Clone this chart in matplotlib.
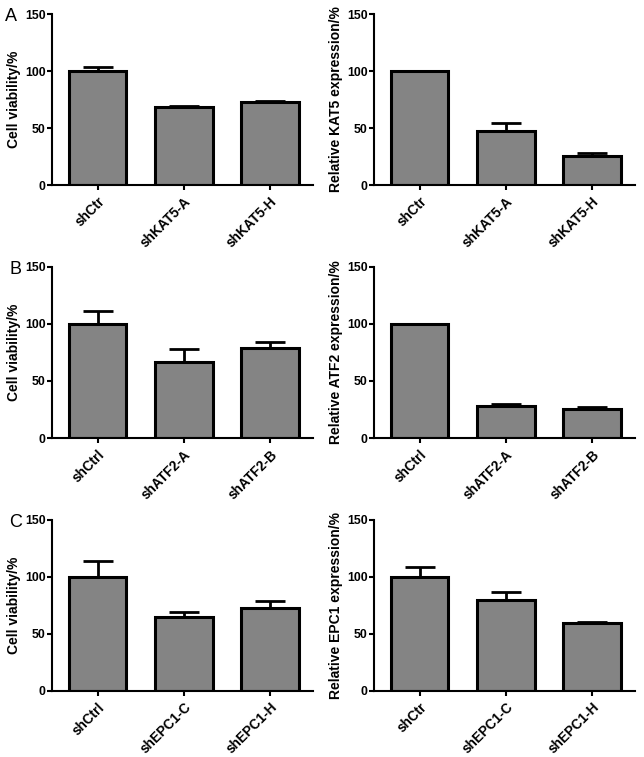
import matplotlib.pyplot as plt

plt.rcParams['font.family'] = ['Liberation Sans', 'DejaVu Sans']

# data
labels_a1 = ['shCtr', 'shKAT5-A', 'shKAT5-H']
vals_a1 = [100, 68, 72.5]
err_a1 = [3.5, 1.5, 1.5]

labels_a2 = ['shCtr', 'shKAT5-A', 'shKAT5-H']
vals_a2 = [100, 47.5, 25.5]
err_a2 = [0, 7, 2.3]

labels_b1 = ['shCtrl', 'shATF2-A', 'shATF2-B']
vals_b1 = [100, 67, 79]
err_b1 = [11, 11, 5]

labels_b2 = ['shCtrl', 'shATF2-A', 'shATF2-B']
vals_b2 = [100, 28.3, 25.6]
err_b2 = [0, 1.4, 1.2]

labels_c1 = ['shCtrl', 'shEPC1-C', 'shEPC1-H']
vals_c1 = [100, 64.5, 73]
err_c1 = [14, 5, 5.5]

labels_c2 = ['shCtr', 'shEPC1-C', 'shEPC1-H']
vals_c2 = [100, 80, 59.5]
err_c2 = [9, 7, 1]

ylabels = ['Cell viability/%', 'Relative KAT5 expression/%',
           'Cell viability/%', 'Relative ATF2 expression/%',
           'Cell viability/%', 'Relative EPC1 expression/%']

panels = [(labels_a1, vals_a1, err_a1), (labels_a2, vals_a2, err_a2),
          (labels_b1, vals_b1, err_b1), (labels_b2, vals_b2, err_b2),
          (labels_c1, vals_c1, err_c1), (labels_c2, vals_c2, err_c2)]

fig = plt.figure(figsize=(6.44, 7.57), dpi=100)

rows_bottom = [0.7556, 0.4214, 0.0872]
cols_left = [0.0807, 0.5807]
w, h = 0.4053, 0.2259

for i, (labs, vals, errs) in enumerate(panels):
    r, c = divmod(i, 2)
    ax = fig.add_axes([cols_left[c], rows_bottom[r], w, h])
    x = range(len(labs))
    ax.bar(x, vals, width=0.67, color='#848484', edgecolor='black', linewidth=2.2, zorder=2)
    ax.errorbar(x, vals, yerr=[[0] * len(errs), errs], fmt='none', ecolor='black',
                elinewidth=2, capsize=11, capthick=2, zorder=1)
    ax.set_xlim(-0.53, 2.5)
    ax.set_ylim(0, 150)
    ax.set_yticks([0, 50, 100, 150])
    ax.set_xticks(list(x))
    ax.set_xticklabels(labs, rotation=45, ha='right', rotation_mode='anchor')
    for s in ['top', 'right']:
        ax.spines[s].set_visible(False)
    for s in ['left', 'bottom']:
        ax.spines[s].set_linewidth(1.5)
    ax.tick_params(axis='y', width=1.5, length=3.6, pad=1, labelsize=8.8)
    ax.tick_params(axis='x', width=1.5, length=3.6, pad=3, labelsize=9.8)
    for t in ax.get_xticklabels() + ax.get_yticklabels():
        t.set_fontweight('bold')
    ax.set_ylabel(ylabels[i], fontsize=10, fontweight='bold', labelpad=3)

fig.text(0.008, 0.972, 'A', fontsize=13)
fig.text(0.014, 0.638, 'B', fontsize=13)
fig.text(0.014, 0.304, 'C', fontsize=13)

plt.savefig('out.png', dpi=100)
plt.close()
